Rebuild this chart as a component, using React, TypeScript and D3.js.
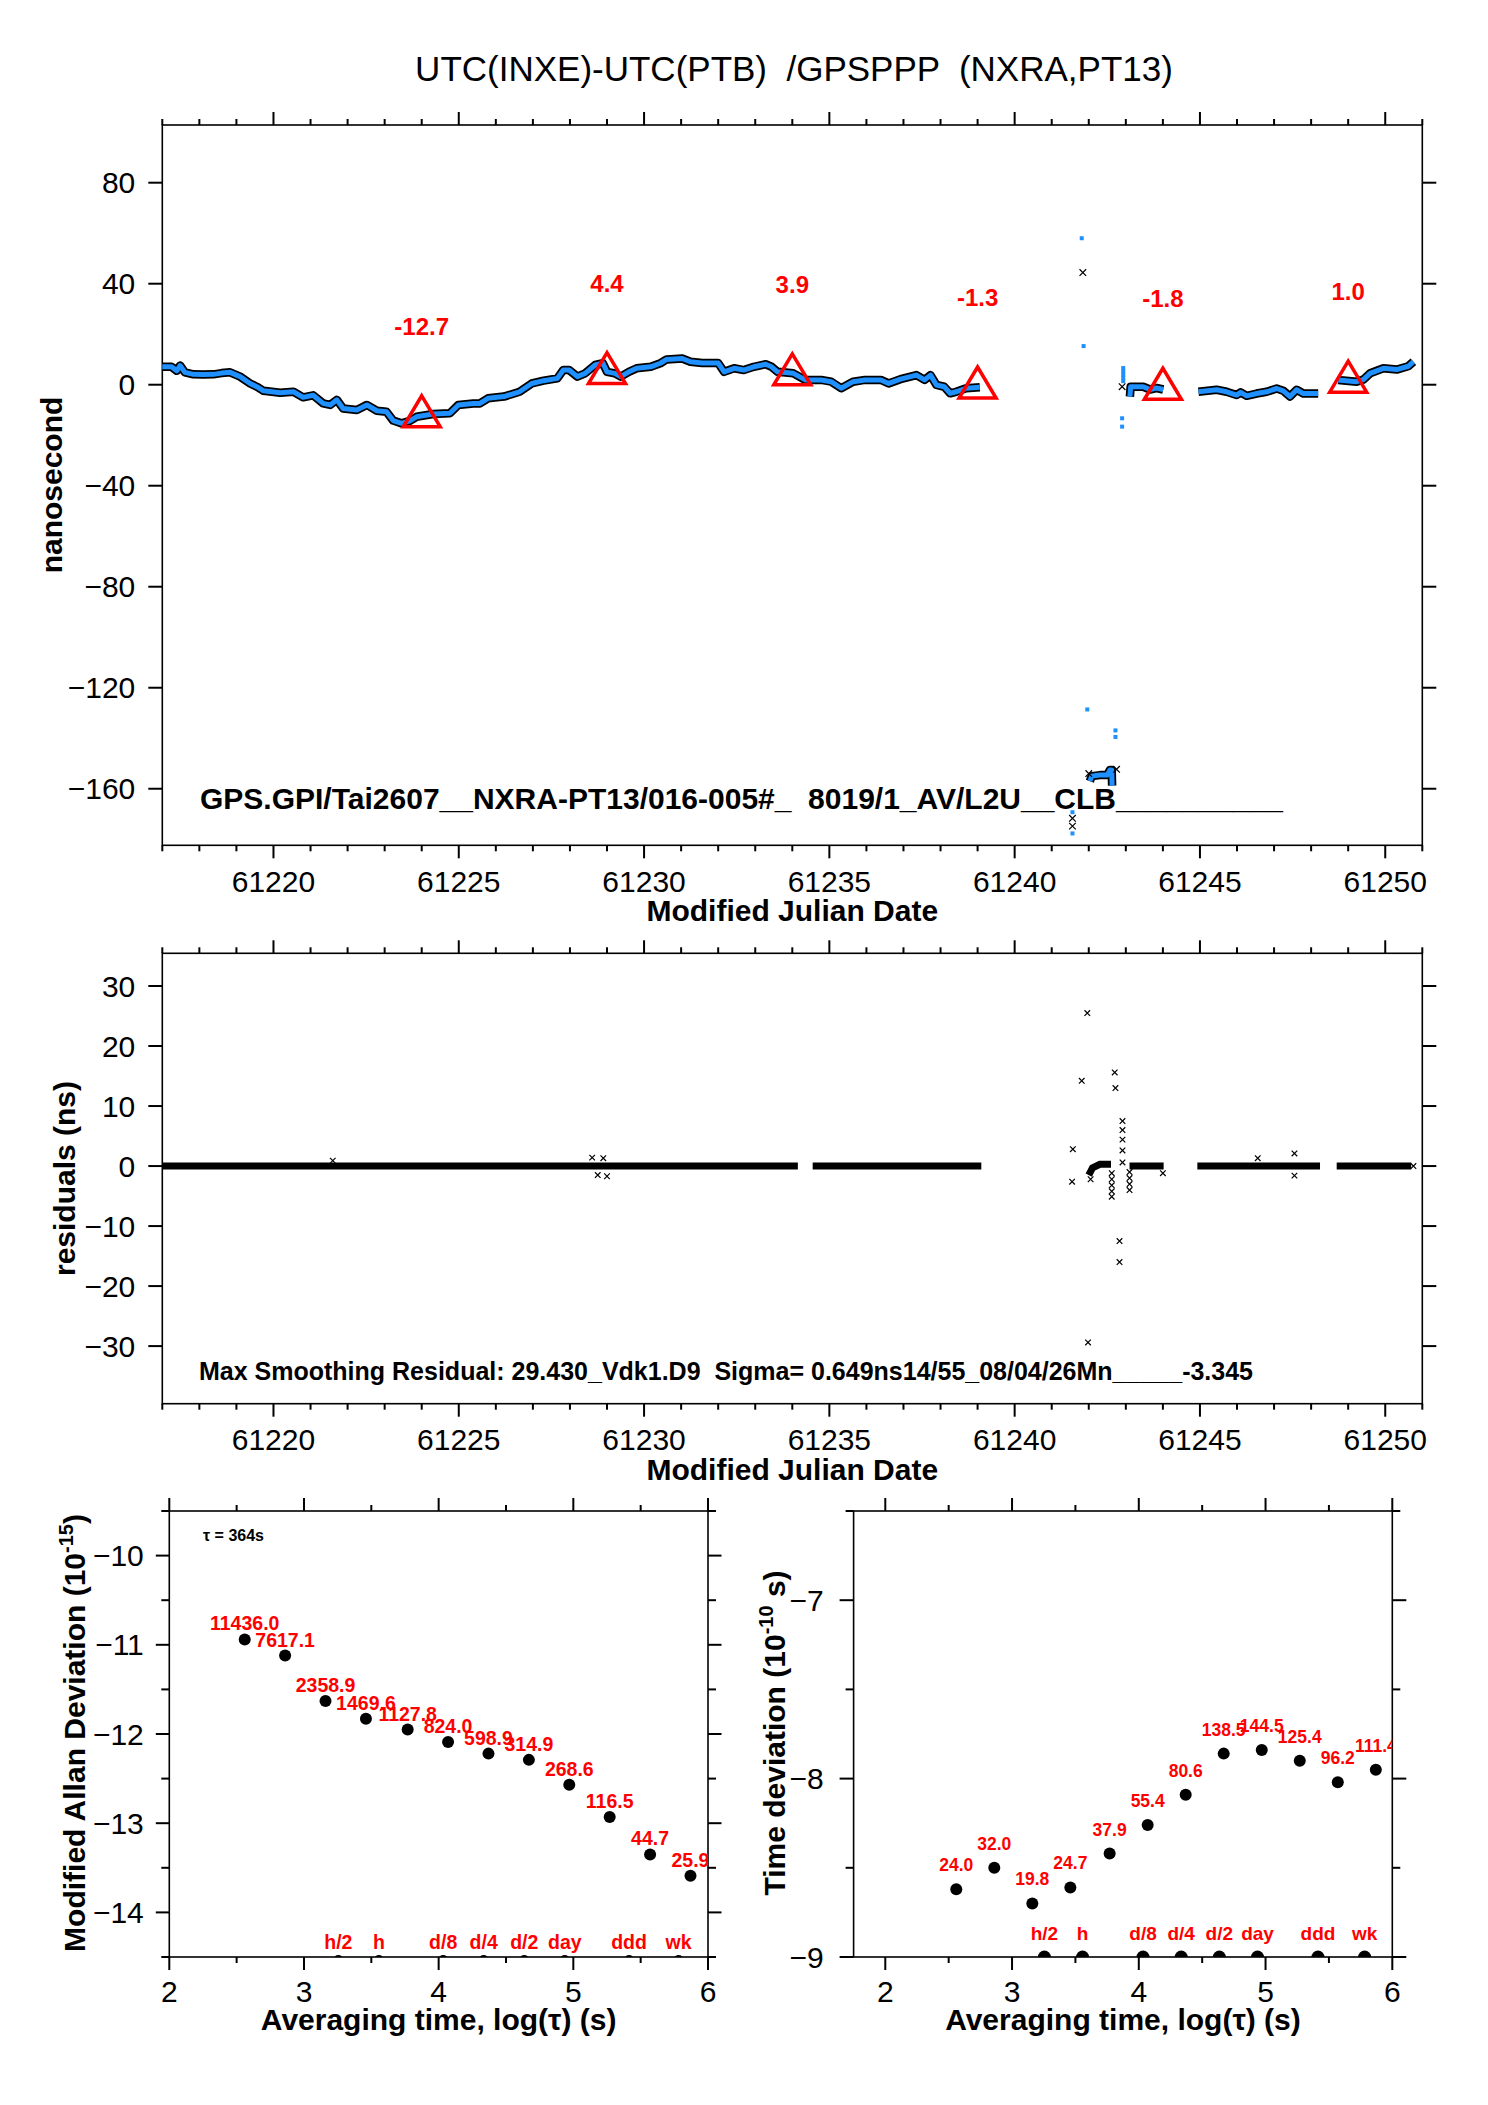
import React from "react";
import * as d3 from "d3";

const W = 1488;
const H = 2105;
const FONT = "'Liberation Sans', Arial, Helvetica, sans-serif";
const BLUE = "#1e90ff";
const RED = "#ff0000";

// ---------- top panel : UTC(INXE)-UTC(PTB) in ns ----------
const mjdTicks = [61220, 61225, 61230, 61235, 61240, 61245, 61250];
const nsTicks = [-160, -120, -80, -40, 0, 40, 80];
const residualTicks = [-30, -20, -10, 0, 10, 20, 30];

const runA: [number, number][] = [
  [61217.0, 7.1], [61217.25, 7.1], [61217.39, 5.5], [61217.48, 7.6], [61217.61, 4.9],
  [61217.84, 4.1], [61218.1, 4.0], [61218.38, 4.1], [61218.6, 4.6], [61218.83, 4.9],
  [61219.1, 3.2], [61219.37, 0.5], [61219.55, -0.8], [61219.73, -2.4], [61220.18, -3.2],
  [61220.54, -2.8], [61220.8, -5.0], [61221.07, -4.2], [61221.34, -7.4], [61221.53, -8.0],
  [61221.71, -6.0], [61221.88, -9.4], [61222.25, -10.0], [61222.52, -8.0], [61222.79, -10.3],
  [61223.05, -10.7], [61223.23, -14.2], [61223.46, -15.3], [61223.68, -14.3], [61223.86, -12.7],
  [61224.31, -11.6], [61224.76, -11.3], [61224.99, -8.0], [61225.39, -7.4], [61225.57, -7.4],
  [61225.79, -5.4], [61226.22, -4.7], [61226.64, -2.8], [61226.97, 0.5], [61227.29, 1.6],
  [61227.66, 2.5], [61227.82, 5.8], [61227.98, 5.8], [61228.2, 3.2], [61228.41, 4.5],
  [61228.68, 7.8], [61228.89, 8.5], [61229.0, 5.1], [61229.21, 4.5], [61229.37, 3.2],
  [61229.59, 5.1], [61229.8, 6.5], [61230.18, 7.1], [61230.44, 8.5], [61230.61, 10.0],
  [61231.03, 10.4], [61231.25, 9.1], [61231.57, 8.6], [61232.0, 8.6], [61232.16, 5.1],
  [61232.43, 6.5], [61232.69, 5.8], [61232.96, 7.1], [61233.28, 8.1], [61233.44, 7.1],
  [61233.6, 5.1], [61234.03, 4.5], [61234.35, 1.9], [61234.78, 1.9], [61235.05, 1.2],
  [61235.32, -1.4], [61235.64, 1.2], [61235.96, 1.9], [61236.39, 1.9], [61236.6, 0.5],
  [61236.92, 2.2], [61237.35, 3.8], [61237.57, 1.9], [61237.73, 3.8], [61237.89, -0.1],
  [61238.1, -0.8], [61238.26, -3.4], [61238.42, -2.8], [61238.69, -1.4], [61239.06, -1.0],
];
const runB: [number, number][] = [
  [61242.03, -157.0], [61242.08, -155.0], [61242.3, -154.6], [61242.5, -154.6],
  [61242.57, -152.6], [61242.62, -152.6], [61242.63, -158.8],
];
const runC: [number, number][] = [
  [61243.11, -4.7], [61243.13, -0.8], [61243.47, -0.8], [61243.65, -1.9],
  [61243.83, -1.3], [61244.01, -1.9],
];
const runD: [number, number][] = [
  [61244.96, -2.8], [61245.45, -2.0], [61245.72, -2.8], [61245.99, -4.1], [61246.1, -3.0],
  [61246.26, -4.4], [61246.53, -3.5], [61246.8, -2.8], [61247.07, -1.5], [61247.25, -2.4],
  [61247.43, -4.7], [61247.61, -2.0], [61247.79, -3.5], [61248.19, -3.5],
];
const runE: [number, number][] = [
  [61248.73, 1.9], [61249.23, 1.2], [61249.41, 2.0], [61249.59, 4.5], [61249.95, 6.5],
  [61250.31, 6.0], [61250.62, 7.3], [61250.76, 9.1],
];
const offsetRuns = [runA, runB, runC, runD, runE];

const spikeDots: [number, number][] = [
  [61241.81, 58.0], [61241.86, 15.3], [61241.96, -128.6], [61242.72, -136.9], [61242.72, -139.5],
  [61242.93, 6.6], [61242.93, 5.3], [61242.93, 4.0], [61242.93, 2.7], [61242.93, 1.4],
  [61242.9, -13.3], [61242.9, -16.6], [61241.56, -169.3], [61241.56, -177.7],
];
const spikeCrosses: [number, number][] = [
  [61241.84, 44.4], [61242.9, -0.8], [61241.56, -171.7], [61241.56, -174.8],
  [61242.0, -154.0], [61242.75, -152.3],
];

const triangleMjd = [61224, 61229, 61234, 61239, 61244, 61249];
const triangleNs = [-12.7, 4.4, 3.9, -1.3, -1.8, 1.0];

// ---------- residuals panel ----------
const residualRuns: [number, number][][] = [
  [[61217.0, 0], [61234.15, 0]],
  [[61234.55, 0], [61239.1, 0]],
  [[61242.0, -1.5], [61242.1, -0.3], [61242.3, 0.3], [61242.6, 0.3]],
  [[61243.1, 0], [61244.02, 0]],
  [[61244.93, 0], [61248.24, 0]],
  [[61248.69, 0], [61250.7, 0]],
];
const residualCrosses: [number, number][] = [
  [61241.96, 25.5], [61241.81, 14.2], [61241.57, 2.8], [61241.55, -2.6], [61241.98, -29.4],
  [61242.7, 15.6], [61242.72, 13.0], [61242.91, 7.5], [61242.91, 6.0], [61242.91, 4.4],
  [61242.91, 2.6], [61242.91, 0.6], [61242.83, -12.5], [61242.83, -16.0], [61242.05, -2.2],
  [61242.62, -1.2], [61242.62, -2.2], [61242.62, -3.2], [61242.62, -4.2], [61242.62, -5.1],
  [61243.1, -1.0], [61243.1, -2.0], [61243.1, -3.0], [61243.1, -4.0], [61244.0, -1.2],
  [61246.56, 1.3], [61247.55, 2.1], [61247.55, -1.6], [61250.76, 0.0],
  [61228.6, 1.4], [61228.75, -1.5], [61228.9, 1.3], [61229.0, -1.7], [61221.6, 0.9],
];

// ---------- stability panels ----------
const logTau = [2.56, 2.86, 3.16, 3.46, 3.77, 4.07, 4.37, 4.67, 4.97, 5.27, 5.57, 5.87];
const modAdev = [-10.94, -11.12, -11.63, -11.83, -11.95, -12.09, -12.22, -12.29, -12.57, -12.93, -13.35, -13.59];
const modAdevLabels = ["11436.0", "7617.1", "2358.9", "1469.6", "1127.8", "824.0", "598.9", "314.9", "268.6", "116.5", "44.7", "25.9"];
const tdev = [-8.62, -8.5, -8.7, -8.61, -8.42, -8.26, -8.09, -7.86, -7.84, -7.9, -8.02, -7.95];
const tdevLabels = ["24.0", "32.0", "19.8", "24.7", "37.9", "55.4", "80.6", "138.5", "144.5", "125.4", "96.2", "111.4"];
const markerNames = ["h/2", "h", "d/8", "d/4", "d/2", "day", "ddd", "wk"];
const markerSeconds = [1800, 3600, 10800, 21600, 43200, 86400, 259200, 604800];
const logTicks = [2, 3, 4, 5, 6];
const logMinor = [2.5, 3.5, 4.5, 5.5];
const adevTicks = [-14, -13, -12, -11, -10];
const adevMinor = [-14.5, -13.5, -12.5, -11.5, -10.5, -9.5];
const tdevTicks = [-9, -8, -7];
const tdevMinor = [-8.5, -7.5, -6.5];

const fmt = (v: number) => (v < 0 ? "\u2212" + Math.abs(v) : String(v));

type Box = { l: number; r: number; t: number; b: number };
type Scale = d3.ScaleLinear<number, number>;

function Frame(props: {
  box: Box; xs: Scale; ys: Scale;
  xMajor: number[]; xMinor: number[]; yMajor: number[]; yMinor: number[];
  yLen: number; yMinLen: number; yGap: number; xLabDy: number;
}) {
  const { box, xs, ys, xMajor, xMinor, yMajor, yMinor, yLen, yMinLen, yGap, xLabDy } = props;
  const st = { stroke: "#000", strokeWidth: 2 };
  return (
    <g>
      <rect x={box.l} y={box.t} width={box.r - box.l} height={box.b - box.t} fill="none" stroke="#000" strokeWidth={1.6} />
      {xMajor.map((v) => (
        <g key={"xM" + v}>
          <line x1={xs(v)} x2={xs(v)} y1={box.t} y2={box.t - 13} {...st} />
          <line x1={xs(v)} x2={xs(v)} y1={box.b} y2={box.b + 13} {...st} />
          <text x={xs(v)} y={box.b + xLabDy} textAnchor="middle" fontSize={30}>{fmt(v)}</text>
        </g>
      ))}
      {xMinor.map((v) => (
        <g key={"xm" + v}>
          <line x1={xs(v)} x2={xs(v)} y1={box.t} y2={box.t - 6} {...st} />
          <line x1={xs(v)} x2={xs(v)} y1={box.b} y2={box.b + 6} {...st} />
        </g>
      ))}
      {yMajor.map((v) => (
        <g key={"yM" + v}>
          <line x1={box.l} x2={box.l - yLen} y1={ys(v)} y2={ys(v)} {...st} />
          <line x1={box.r} x2={box.r + yLen} y1={ys(v)} y2={ys(v)} {...st} />
          <text x={box.l - yGap} y={ys(v)} dy="0.35em" textAnchor="end" fontSize={30}>{fmt(v)}</text>
        </g>
      ))}
      {yMinor.map((v) => (
        <g key={"ym" + v}>
          <line x1={box.l} x2={box.l - yMinLen} y1={ys(v)} y2={ys(v)} {...st} />
          <line x1={box.r} x2={box.r + yMinLen} y1={ys(v)} y2={ys(v)} {...st} />
        </g>
      ))}
    </g>
  );
}

function Cross({ cx, cy, s = 3.3 }: { cx: number; cy: number; s?: number }) {
  return (
    <path d={`M${cx - s},${cy - s}L${cx + s},${cy + s}M${cx - s},${cy + s}L${cx + s},${cy - s}`} stroke="#000" strokeWidth={1.2} fill="none" />
  );
}

const App: React.FC = () => {
  // panel geometry
  const b1: Box = { l: 162.3, r: 1422.3, t: 125, b: 845.3 };
  const b2: Box = { l: 162.3, r: 1422.3, t: 953.3, b: 1403.7 };
  const bL: Box = { l: 169.3, r: 708, t: 1511, b: 1957 };
  const bR: Box = { l: 853.6, r: 1392.3, t: 1511, b: 1957 };

  const x1 = d3.scaleLinear().domain([61217, 61251]).range([b1.l, b1.r]);
  const y1 = d3.scaleLinear().domain([-182.4, 102.85]).range([b1.b, b1.t]);
  const y2 = d3.scaleLinear().domain([-39.6, 35.45]).range([b2.b, b2.t]);
  const xL = d3.scaleLinear().domain([2, 6]).range([bL.l, bL.r]);
  const yL = d3.scaleLinear().domain([-14.5, -9.5]).range([bL.b, bL.t]);
  const xR = d3.scaleLinear().domain([1.75, 6]).range([bR.l, bR.r]);
  const yR = d3.scaleLinear().domain([-9, -6.5]).range([bR.b, bR.t]);

  const mjdMinor = d3.range(61217, 61252).filter((d) => d % 5 !== 0);

  const line1 = d3.line<[number, number]>().x((d) => x1(d[0])).y((d) => y1(d[1]));
  const line2 = d3.line<[number, number]>().x((d) => x1(d[0])).y((d) => y2(d[1]));

  return (
    <div style={{ position: "absolute", left: 0, top: 0 }}>
      <svg width={W} height={H} viewBox={`0 0 ${W} ${H}`} fontFamily={FONT} style={{ display: "block", background: "#fff" }}>
        <defs>
          <clipPath id="clipL"><rect x={bL.l} y={bL.t} width={bL.r - bL.l} height={bL.b - bL.t} /></clipPath>
          <clipPath id="clipR"><rect x={bR.l} y={bR.t} width={bR.r - bR.l} height={bR.b - bR.t} /></clipPath>
        </defs>

        <text x={794} y={81} textAnchor="middle" fontSize={35} style={{ whiteSpace: "pre" }}>
          UTC(INXE)-UTC(PTB)  /GPSPPP  (NXRA,PT13)
        </text>

        {/* ---- panel 1 ---- */}
        <Frame box={b1} xs={x1} ys={y1} xMajor={mjdTicks} xMinor={mjdMinor} yMajor={nsTicks} yMinor={[]}
          yLen={14} yMinLen={7} yGap={27} xLabDy={46.4} />
        {offsetRuns.map((run, i) => (
          <path key={"k" + i} d={line1(run) || ""} fill="none" stroke="#000" strokeWidth={8.5} strokeLinejoin="round" />
        ))}
        {offsetRuns.map((run, i) => (
          <path key={"b" + i} d={line1(run) || ""} fill="none" stroke={BLUE} strokeWidth={5} strokeLinejoin="round" />
        ))}
        {spikeCrosses.map((d, i) => <Cross key={"sc" + i} cx={x1(d[0])} cy={y1(d[1])} />)}
        {spikeDots.map((d, i) => (
          <rect key={"sd" + i} x={x1(d[0]) - 2} y={y1(d[1]) - 2} width={4} height={4} fill={BLUE} />
        ))}
        {triangleMjd.map((m, i) => {
          const cx = x1(m);
          const cy = y1(triangleNs[i]);
          return (
            <g key={"t" + i}>
              <path d={`M${cx},${cy - 21}L${cx + 18.5},${cy + 10}L${cx - 18.5},${cy + 10}Z`} fill="none" stroke={RED} strokeWidth={3.5} />
              <text x={cx} y={y1(triangleNs[i] + 32.4)} textAnchor="middle" fontSize={24} fontWeight="bold" fill={RED}>
                {triangleNs[i].toFixed(1)}
              </text>
            </g>
          );
        })}
        <text x={200} y={809} fontSize={30} fontWeight="bold" style={{ whiteSpace: "pre" }}>
          GPS.GPI/Tai2607__NXRA-PT13/016-005#_  8019/1_AV/L2U__CLB__________
        </text>
        <text transform="translate(62,485) rotate(-90)" textAnchor="middle" fontSize={30} fontWeight="bold">nanosecond</text>
        <text x={792.3} y={921} textAnchor="middle" fontSize={30} fontWeight="bold">Modified Julian Date</text>

        {/* ---- panel 2 ---- */}
        <Frame box={b2} xs={x1} ys={y2} xMajor={mjdTicks} xMinor={mjdMinor} yMajor={residualTicks} yMinor={[]}
          yLen={14} yMinLen={7} yGap={27} xLabDy={46.3} />
        {residualRuns.map((run, i) => (
          <path key={"r" + i} d={line2(run) || ""} fill="none" stroke="#000" strokeWidth={7} />
        ))}
        {residualCrosses.map((d, i) => <Cross key={"rc" + i} cx={x1(d[0])} cy={y2(d[1])} s={2.8} />)}
        <text x={199} y={1380} fontSize={25} fontWeight="bold" style={{ whiteSpace: "pre" }}>
          Max Smoothing Residual: 29.430_Vdk1.D9  Sigma= 0.649ns14/55_08/04/26Mn_____-3.345
        </text>
        <text transform="translate(75,1178.5) rotate(-90)" textAnchor="middle" fontSize={30} fontWeight="bold">residuals (ns)</text>
        <text x={792.3} y={1479.5} textAnchor="middle" fontSize={30} fontWeight="bold">Modified Julian Date</text>

        {/* ---- modified Allan deviation ---- */}
        <Frame box={bL} xs={xL} ys={yL} xMajor={logTicks} xMinor={logMinor} yMajor={adevTicks} yMinor={adevMinor}
          yLen={13.5} yMinLen={8} yGap={25.5} xLabDy={45} />
        <g clipPath="url(#clipL)">
          {logTau.map((t, i) => (
            <g key={"a" + i}>
              <circle cx={xL(t)} cy={yL(modAdev[i])} r={6} fill="#000" />
              <text x={xL(t)} y={yL(modAdev[i]) - 9} textAnchor="middle" fontSize={19.5} fontWeight="bold" fill={RED}>
                {modAdevLabels[i]}
              </text>
            </g>
          ))}
          {markerSeconds.map((s, i) => (
            <g key={"am" + i}>
              <circle cx={xL(Math.log10(s))} cy={bL.b + 3} r={5} fill="#000" />
              <text x={xL(Math.log10(s))} y={bL.b - 8.5} textAnchor="middle" fontSize={19.5} fontWeight="bold" fill={RED}>
                {markerNames[i]}
              </text>
            </g>
          ))}
        </g>
        <text x={203} y={1541} fontSize={16} fontWeight="bold">τ = 364s</text>
        <text transform="translate(84.5,1733) rotate(-90)" textAnchor="middle" fontSize={30} fontWeight="bold">
          Modified Allan Deviation (10<tspan fontSize={20} dy={-12}>-15</tspan><tspan dy={12}>)</tspan>
        </text>
        <text x={(bL.l + bL.r) / 2} y={2030} textAnchor="middle" fontSize={30} fontWeight="bold">
          Averaging time, log(τ) (s)
        </text>

        {/* ---- time deviation ---- */}
        <Frame box={bR} xs={xR} ys={yR} xMajor={logTicks} xMinor={logMinor} yMajor={tdevTicks} yMinor={tdevMinor}
          yLen={14} yMinLen={8} yGap={29.8} xLabDy={45} />
        <g clipPath="url(#clipR)">
          {logTau.map((t, i) => (
            <g key={"d" + i}>
              <circle cx={xR(t)} cy={yR(tdev[i])} r={6} fill="#000" />
              <text x={xR(t)} y={yR(tdev[i]) - 18} textAnchor="middle" fontSize={17.5} fontWeight="bold" fill={RED}>
                {tdevLabels[i]}
              </text>
            </g>
          ))}
          {markerSeconds.map((s, i) => (
            <g key={"dm" + i}>
              <circle cx={xR(Math.log10(s))} cy={bR.b} r={6.5} fill="#000" />
              <text x={xR(Math.log10(s))} y={bR.b - 17.5} textAnchor="middle" fontSize={19} fontWeight="bold" fill={RED}>
                {markerNames[i]}
              </text>
            </g>
          ))}
        </g>
        <text transform="translate(785,1733) rotate(-90)" textAnchor="middle" fontSize={30} fontWeight="bold">
          Time deviation (10<tspan fontSize={20} dy={-12}>-10</tspan><tspan dy={12}> s)</tspan>
        </text>
        <text x={(bR.l + bR.r) / 2} y={2030} textAnchor="middle" fontSize={30} fontWeight="bold">
          Averaging time, log(τ) (s)
        </text>
      </svg>
    </div>
  );
};

export default App;
